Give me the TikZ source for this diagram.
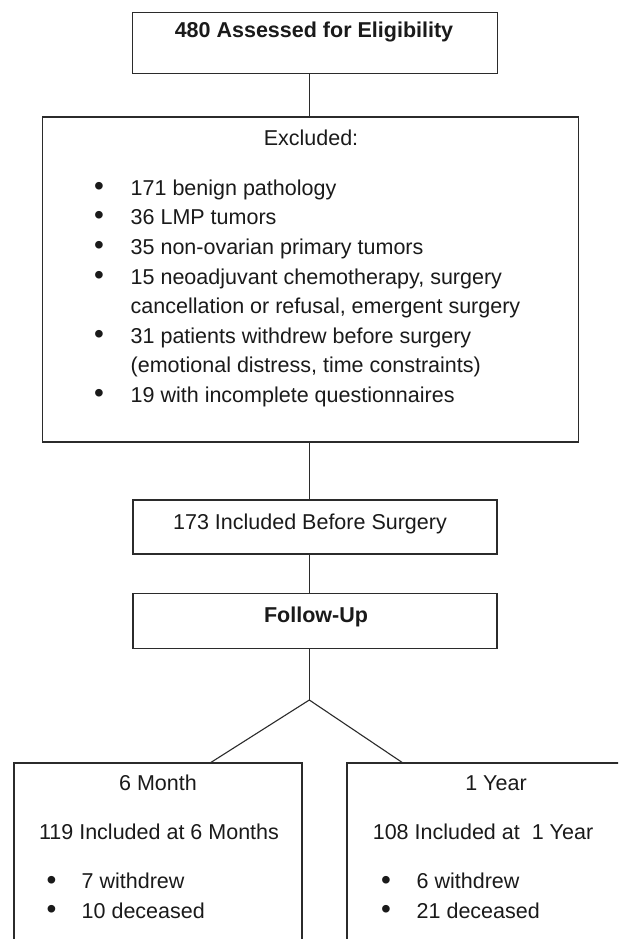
\documentclass[tikz,border=0pt]{standalone}
\usepackage{fontspec}
\setmainfont{Liberation Sans}
\definecolor{linecol}{HTML}{2B2B2B}
\definecolor{txtcol}{HTML}{1A1A1A}
\begin{document}
\begin{tikzpicture}[x=1pt,y=-1pt,
  box/.style={draw=linecol, line width=1.1pt, rectangle, inner sep=0pt},
  txt/.style={inner sep=0pt, anchor=base, font=\fontsize{21.5}{26}\selectfont, text=txtcol},
  btxt/.style={txt, font=\fontsize{21.5}{26}\selectfont\bfseries},
  ltxt/.style={txt, anchor=base west},
  bul/.style={inner sep=0pt, anchor=center, font=\fontsize{28}{28}\selectfont, text=txtcol},
  conn/.style={draw=linecol, line width=1.1pt}]
\useasboundingbox (0,0) rectangle (618,939);
\fill[white] (0,0) rectangle (618,939);
\clip (0,0) rectangle (618,939);

% boxes
\node[box, minimum width=365pt, minimum height=61pt] (top) at (315,43) {};
\node[box, minimum width=536pt, minimum height=325pt] (excl) at (310.5,279.5) {};
\node[box, minimum width=364pt, minimum height=54pt] (incl) at (315,527) {};
\node[box, minimum width=364pt, minimum height=55pt] (fu) at (315,620.8) {};
\node[box, minimum width=288pt, minimum height=217pt] (left) at (158,871.5) {};
\node[box, minimum width=298pt, minimum height=217pt] (right) at (496,871.5) {};

% connectors
\coordinate (ax) at (309.3,0);
\coordinate (apex) at (309.3,700);
\coordinate (bl) at (210,763);
\coordinate (br) at (403,763);
\draw[conn] (top.south -| ax) -- (excl.north -| ax);
\draw[conn] (excl.south -| ax) -- (incl.north -| ax);
\draw[conn] (incl.south -| ax) -- (fu.north -| ax);
\draw[conn] (fu.south -| ax) -- (apex);
\draw[conn] (bl) -- (apex) -- (br);

% texts
\node[btxt] (t1) at (314,37.3) {480 Assessed for Eligibility};
\node[txt] (t2) at (311,145) {Excluded:};
\node[bul] (b1) at (99,188.5) {•};
\node[ltxt] (e1) at (130.5,195) {171 benign pathology};
\node[bul] (b2) at (99,218.2) {•};
\node[ltxt] (e2) at (130.5,224.7) {36 LMP tumors};
\node[bul] (b3) at (99,247.9) {•};
\node[ltxt] (e3) at (130.5,254.4) {35 non-ovarian primary tumors};
\node[bul] (b4) at (99,277.5) {•};
\node[ltxt] (e4) at (130.5,284) {15 neoadjuvant chemotherapy, surgery};
\node[ltxt] (e4b) at (130.5,313.3) {cancellation or refusal, emergent surgery};
\node[bul] (b5) at (99,336.5) {•};
\node[ltxt] (e5) at (130.5,343) {31 patients withdrew before surgery};
\node[ltxt] (e5b) at (130.5,372.3) {(emotional distress, time constraints)};
\node[bul] (b6) at (99,395.5) {•};
\node[ltxt] (e6) at (130.5,402) {19 with incomplete questionnaires};

\node[txt] (t3) at (310,529.3) {173 Included Before Surgery};
\node[btxt] (t4) at (316,622.3) {Follow-Up};

\node[txt] (l1) at (158,790) {6 Month};
\node[txt] (l2) at (159,839) {119 Included at 6 Months};
\node[bul] (lb1) at (51.5,882.5) {•};
\node[ltxt] (l3) at (81.5,888.3) {7 withdrew};
\node[bul] (lb2) at (51.5,912) {•};
\node[ltxt] (l4) at (81.5,918.3) {10 deceased};

\node[txt] (r1) at (496,790) {1 Year};
\node[txt] (r2) at (483,839) {108 Included at~~1 Year};
\node[bul] (rb1) at (386,882.5) {•};
\node[ltxt] (r3) at (416.5,888.3) {6 withdrew};
\node[bul] (rb2) at (386,912) {•};
\node[ltxt] (r4) at (416.5,918.3) {21 deceased};
\end{tikzpicture}
\end{document}
